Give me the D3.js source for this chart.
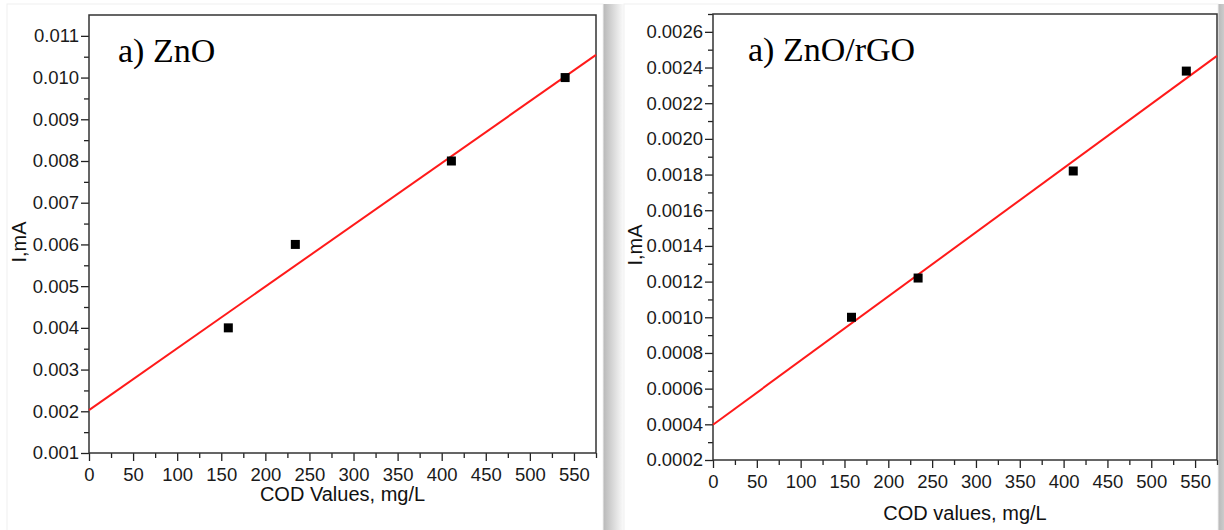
<!DOCTYPE html>
<html>
<head>
<meta charset="utf-8">
<script src="https://cdn.jsdelivr.net/npm/d3@7"></script>
<style>
	body { margin: 0; background: #fff; }
	svg { display: block; }
	.tick text { font-family: 'Liberation Sans', Arial, sans-serif; font-size: 18.5px; fill: #1a1a1a; }
	.axis-title { font-family: 'Liberation Sans', Arial, sans-serif; font-size: 20px; fill: #111; }
	.panel-title { font-family: 'Liberation Serif', 'Times New Roman', serif; font-size: 34px; fill: #000; }
</style>
</head>
<body>
<svg class="chart" width="1224" height="530"></svg>
<script>
const codValues = [158, 234, 411, 540];
const currentZnO = [0.004, 0.006, 0.008, 0.010];
const currentZnOrGO = [0.0010, 0.00122, 0.00182, 0.00238];
const xTickValues = [0, 50, 100, 150, 200, 250, 300, 350, 400, 450, 500, 550];
const yTicksZnO = [0.001, 0.002, 0.003, 0.004, 0.005, 0.006, 0.007, 0.008, 0.009, 0.010, 0.011];
const yTicksZnOrGO = [0.0002, 0.0004, 0.0006, 0.0008, 0.0010, 0.0012, 0.0014, 0.0016, 0.0018, 0.0020, 0.0022, 0.0024, 0.0026];

const fitLine = (xs, ys) => {
	const mx = d3.mean(xs);
	const my = d3.mean(ys);
	const slope = d3.sum(xs, (x, i) => (x - mx) * (ys[i] - my)) / d3.sum(xs, x => (x - mx) ** 2);
	return x => my + slope * (x - mx);
};

const svg = d3.select('.chart');
const defs = svg.append('defs');
const shade = defs.append('linearGradient').attr('id', 'shade');
shade.append('stop').attr('offset', '0%').attr('stop-color', '#b8b8b8');
shade.append('stop').attr('offset', '100%').attr('stop-color', '#fff');

// cards with right-side shadow
[[7, 4, 596, 530], [624, 4, 594, 530]].forEach(([x, y, w, h]) => {
	svg.append('rect').attr('x', x + w).attr('y', y).attr('width', 22).attr('height', h).attr('fill', 'url(#shade)');
	svg.append('rect').attr('x', x).attr('y', y).attr('width', w).attr('height', h)
		.attr('fill', '#fff').attr('stroke', '#f0f0f0');
});

function drawPanel({left, top, width, height, xDomain, yDomain, yTicks, yFormat, ys, title, titleX, xTitle, xTitleY, yTitleX}) {
	const xScale = d3.scaleLinear().domain(xDomain).range([0, width]);
	const yScale = d3.scaleLinear().domain(yDomain).range([height, 0]);
	const g = svg.append('g').attr('transform', `translate(${left}, ${top})`);

	// minor ticks
	const xMinor = xTickValues.map(v => v + 25);
	const yStep = yTicks[1] - yTicks[0];
	const yMinor = yTicks.map(v => v + yStep / 2).filter(v => v < yDomain[1]);
	g.append('g').attr('transform', `translate(0, ${height})`)
		.call(d3.axisBottom(xScale).tickValues(xMinor).tickSize(5).tickFormat(''))
		.call(a => a.select('.domain').remove())
		.selectAll('line').attr('stroke', '#222').attr('stroke-width', 1.3);
	g.append('g')
		.call(d3.axisLeft(yScale).tickValues(yMinor).tickSize(5).tickFormat(''))
		.call(a => a.select('.domain').remove())
		.selectAll('line').attr('stroke', '#222').attr('stroke-width', 1.3);

	// major ticks
	g.append('g').attr('transform', `translate(0, ${height})`)
		.call(d3.axisBottom(xScale).tickValues(xTickValues).tickSize(8).tickPadding(7).tickFormat(d3.format('d')))
		.call(a => a.select('.domain').remove())
		.call(a => a.selectAll('line').attr('stroke', '#222').attr('stroke-width', 1.3));
	g.append('g')
		.call(d3.axisLeft(yScale).tickValues(yTicks).tickSize(8).tickPadding(2).tickFormat(yFormat))
		.call(a => a.select('.domain').remove())
		.call(a => a.selectAll('line').attr('stroke', '#222').attr('stroke-width', 1.3));

	// frame
	g.append('rect').attr('width', width).attr('height', height)
		.attr('fill', 'none').attr('stroke', '#333').attr('stroke-width', 1.5);

	// fit line
	const fit = fitLine(codValues, ys);
	g.append('line')
		.attr('x1', xScale(xDomain[0])).attr('y1', yScale(fit(xDomain[0])))
		.attr('x2', xScale(xDomain[1])).attr('y2', yScale(fit(xDomain[1])))
		.attr('stroke', '#ff1a1a').attr('stroke-width', 2);

	// points
	g.selectAll('.pt').data(codValues).enter()
		.append('rect').classed('pt', true)
		.attr('x', d => xScale(d) - 4.5)
		.attr('y', (d, i) => yScale(ys[i]) - 4.5)
		.attr('width', 9).attr('height', 9).attr('fill', '#000');

	g.append('text').classed('panel-title', true)
		.attr('x', titleX).attr('y', 47).text(title);
	g.append('text').classed('axis-title', true)
		.attr('text-anchor', 'middle').attr('x', width / 2).attr('y', xTitleY).text(xTitle);
	g.append('text').classed('axis-title', true)
		.attr('text-anchor', 'middle')
		.attr('transform', `translate(${yTitleX}, ${height / 2 + 8}) rotate(-90)`)
		.text('I,mA');
}

drawPanel({
	left: 89, top: 15, width: 507, height: 438,
	xDomain: [0, 575], yDomain: [0.001, 0.0115],
	yTicks: yTicksZnO, yFormat: d3.format('.3f'), ys: currentZnO,
	title: 'a) ZnO', titleX: 29, xTitle: 'COD Values, mg/L', xTitleY: 486, yTitleX: -63
});

drawPanel({
	left: 713, top: 14, width: 504, height: 446,
	xDomain: [0, 575], yDomain: [0.0002, 0.0027],
	yTicks: yTicksZnOrGO, yFormat: d3.format('.4f'), ys: currentZnOrGO,
	title: 'a) ZnO/rGO', titleX: 35, xTitle: 'COD values, mg/L', xTitleY: 506, yTitleX: -71
});
</script>
</body>
</html>
